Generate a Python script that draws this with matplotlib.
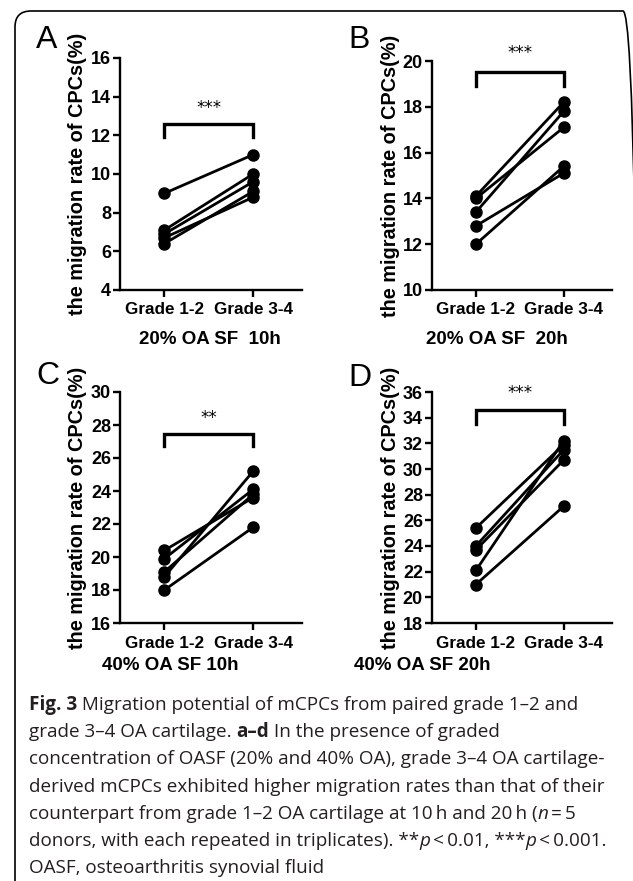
import matplotlib
matplotlib.use("Agg")
import matplotlib.pyplot as plt
import matplotlib.patches as patches
import matplotlib.transforms as mtransforms
from matplotlib.font_manager import FontProperties

# data: each donor is one pair (grade 1-2, grade 3-4)
groups = ["Grade 1-2", "Grade 3-4"]

a_low = [9.0, 7.1, 6.9, 6.7, 6.4]
a_high = [11.0, 10.0, 9.6, 8.8, 9.1]

b_low = [14.1, 14.0, 13.4, 12.8, 12.0]
b_high = [18.2, 17.1, 17.8, 15.1, 15.4]

c_low = [20.4, 19.9, 19.1, 18.8, 18.0]
c_high = [23.6, 24.1, 23.8, 25.2, 21.8]

d_low = [25.4, 24.0, 23.7, 22.1, 21.0]
d_high = [31.9, 31.5, 30.7, 32.2, 27.1]

ylims = [(4, 16), (10, 20), (16, 30), (18, 36)]
stars = ["***", "***", "**", "***"]
# bracket top, bracket foot, star height (data units)
brackets = [(12.6, 11.9, 13.4), (19.5, 18.9, 20.35), (27.45, 26.7, 28.4), (34.6, 33.5, 35.9)]
letters = ["A", "B", "C", "D"]
titles = ["20% OA SF  10h", "20% OA SF  20h", "40% OA SF 10h", "40% OA SF 20h"]

W, H = 633, 881
fig = plt.figure(figsize=(W / 100, H / 100), dpi=100)

def px_rect(x0, y0, x1, y1):
    # pixel box (top-left origin) -> figure fraction
    return [x0 / W, 1 - y1 / H, (x1 - x0) / W, (y1 - y0) / H]

boxes = [(120, 58, 302, 290), (432, 61, 612, 290), (120, 392, 302, 623), (432, 392, 612, 623)]
series = [(a_low, a_high), (b_low, b_high), (c_low, c_high), (d_low, d_high)]
letter_pos = [(36, 48), (348, 48), (36, 384), (348, 386)]
title_pos = [(210, 340), (497, 340), (170, 665), (422, 665)]

bold = dict(family="Liberation Sans", weight="bold")

for i in range(4):
    ax = fig.add_axes(px_rect(*boxes[i]))
    low, high = series[i]
    for lo, hi in zip(low, high):
        ax.plot([0, 1], [lo, hi], color="black", lw=2.0, marker="o", ms=8,
                solid_capstyle="round", clip_on=False, zorder=3)
    lo_y, hi_y = ylims[i]
    ax.set_ylim(lo_y, hi_y)
    ax.set_yticks(range(lo_y, hi_y + 1, 2))
    ax.set_xlim(-0.5, 1.55)
    ax.set_xticks([0, 1])
    ax.set_xticklabels(groups)
    for s in ["top", "right"]:
        ax.spines[s].set_visible(False)
    for s in ["left", "bottom"]:
        ax.spines[s].set_linewidth(1.7)
    ax.tick_params(direction="out", length=5, width=1.7, pad=1.5)
    ax.tick_params(axis="x", pad=4)
    for lab in ax.get_yticklabels():
        lab.set_fontproperties(FontProperties(size=13, **bold))
    for lab in ax.get_xticklabels():
        lab.set_fontproperties(FontProperties(size=12.3, **bold))
    ax.set_ylabel("the migration rate of CPCs(%)", fontsize=14.3, va="center", **bold)
    ax.yaxis.set_label_coords(-0.232, 0.5)

    top, foot, sy = brackets[i]
    ax.plot([0, 0, 1, 1], [foot, top, top, foot], color="black", lw=2.4,
            clip_on=False, solid_joinstyle="miter")
    ax.text(0.5, sy, stars[i], ha="center", va="center", fontsize=12,
            family="DejaVu Sans", clip_on=False)

    lx, ly = letter_pos[i]
    fig.text(lx / W, 1 - ly / H, letters[i], fontsize=23, family="Liberation Sans",
             ha="left", va="baseline")
    tx, ty = title_pos[i]
    fig.text(tx / W, 1 - ty / H, titles[i], fontsize=13.5, ha="center", va="center", **bold)

# rounded frame around the panels (right side cut by the image edge)
frame = patches.FancyBboxPatch((15, -30), 624, H - 10 + 30 - 1,
                               boxstyle="round,pad=0,rounding_size=16",
                               fill=False, lw=1.2, ec="black",
                               transform=mtransforms.IdentityTransform())
fig.add_artist(frame)

# caption, drawn piece by piece so bold / italic bits sit inline
cap_lines = [
    [("Fig. 3", "bold"), (" Migration potential of mCPCs from paired grade 1\u20132 and", "normal")],
    [("grade 3\u20134 OA cartilage. ", "normal"), ("a\u2013d", "bold"), (" In the presence of graded", "normal")],
    [("concentration of OASF (20% and 40% OA), grade 3\u20134 OA cartilage-", "normal")],
    [("derived mCPCs exhibited higher migration rates than that of their", "normal")],
    [("counterpart from grade 1\u20132 OA cartilage at 10\u2009h and 20\u2009h (", "normal"),
     ("n", "italic"), ("\u2009=\u20095", "normal")],
    [("donors, with each repeated in triplicates). **", "normal"), ("p", "italic"),
     ("\u2009<\u20090.01, ***", "normal"), ("p", "italic"), ("\u2009<\u20090.001.", "normal")],
    [("OASF, osteoarthritis synovial fluid", "normal")],
]
cap_x0 = 29
cap_base = 710
cap_step = 27.2
renderer = fig.canvas.get_renderer()
for n, parts in enumerate(cap_lines):
    x = cap_x0
    y = 1 - (cap_base + n * cap_step) / H
    for txt, style in parts:
        kw = dict(fontsize=13.6, family=["Open Sans", "DejaVu Sans"], color="#231f20",
                  ha="left", va="baseline")
        if style == "bold":
            kw["weight"] = "bold"
        if style == "italic":
            kw["style"] = "italic"
        t = fig.text(x / W, y, txt.replace(" ", "\u00a0"), **kw)
        bb = t.get_window_extent(renderer)
        x += bb.width

fig.savefig("out.png", dpi=100)
